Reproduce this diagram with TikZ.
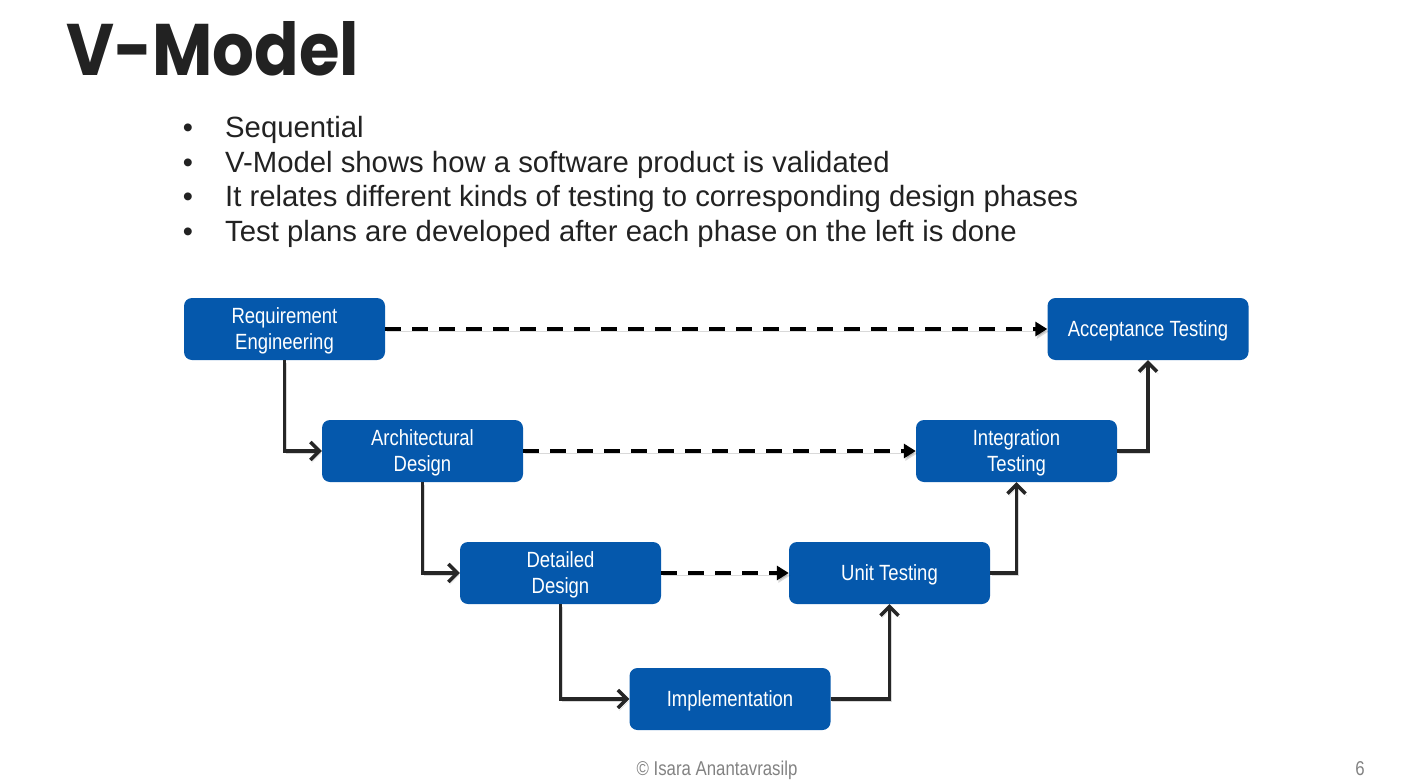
\documentclass[tikz,border=0pt]{standalone}
\usepackage{fontspec}
\usetikzlibrary{arrows.meta}
\setmainfont{Liberation Sans}
\newfontfamily\titlefont{Poppins}[UprightFont=* Bold, FakeStretch=0.9]
\newfontfamily\boxfont{Liberation Sans}[FakeStretch=0.84]
\definecolor{boxblue}{RGB}{5,88,172}
\definecolor{txtdark}{RGB}{34,34,34}
\definecolor{linedark}{RGB}{38,38,38}
\definecolor{footgray}{RGB}{130,130,130}
\newcommand\ptxt[1]{\raisebox{-2.5pt}[\height][\depth]{\begin{tabular}{@{}c@{}}#1\end{tabular}}}
\tikzset{
  phase/.style={draw=none, fill=boxblue, rounded corners=8pt, minimum width=201pt, minimum height=62pt,
    inner sep=0pt, text=white, align=center, font=\boxfont\fontsize{22}{26}\selectfont},
  softshadow/.style={preaction={draw=black, opacity=0.15, transform canvas={shift={(1.5pt,-2.5pt)}}}},
  flow/.style={softshadow, draw=linedark, line width=3.5pt, -{Straight Barb[length=9pt,width=18pt,line width=3.5pt]}},
  plan/.style={softshadow, draw=black, line width=4.5pt, dash pattern=on 16pt off 11pt, -{Triangle[length=12pt,width=14pt]}},
  bullettext/.style={anchor=base west, text=txtdark, font=\fontsize{29.3}{35}\selectfont, inner sep=0pt},
  bulletdot/.style={anchor=base, text=txtdark, font=\fontsize{29}{35}\selectfont, inner sep=0pt}
}
\begin{document}
\begin{tikzpicture}[x=1pt,y=-1pt]
\useasboundingbox (0,0) rectangle (1423,781);
\node[anchor=base west, inner sep=0pt, text=txtdark, font=\titlefont\fontsize{73}{80}\selectfont] (title) at (66,76) {V-Model};
\node[bulletdot] (d1) at (188,137) {•};
\node[bulletdot] (d2) at (188,172) {•};
\node[bulletdot] (d3) at (188,206) {•};
\node[bulletdot] (d4) at (188,241) {•};
\node[bullettext] (b1) at (225,137) {Sequential};
\node[bullettext] (b2) at (225,172) {V-Model shows how a software product is validated};
\node[bullettext] (b3) at (225,206) {It relates different kinds of testing to corresponding design phases};
\node[bullettext] (b4) at (225,241) {Test plans are developed after each phase on the left is done};

\node[phase] (req) at (284.5,329) {\ptxt{Requirement\\Engineering}};
\node[phase] (arch) at (422.5,451) {\ptxt{Architectural\\Design}};
\node[phase] (det) at (560.5,573) {\ptxt{Detailed\\Design}};
\node[phase] (impl) at (730,699) {\ptxt{Implementation}};
\node[phase] (unit) at (889.5,573) {\ptxt{Unit Testing}};
\node[phase] (integ) at (1016.5,451) {\ptxt{Integration\\Testing}};
\node[phase] (acc) at (1148,329) {\ptxt{Acceptance Testing}};

\draw[flow] (req.south) |- (arch.west);
\draw[flow] (arch.south) |- (det.west);
\draw[flow] (det.south) |- (impl.west);
\draw[flow] (impl.east) -| (unit.south);
\draw[flow] (unit.east) -| (integ.south);
\draw[flow] (integ.east) -| (acc.south);

\draw[plan] (req.east) -- (acc.west);
\draw[plan] (arch.east) -- (integ.west);
\draw[plan] (det.east) -- (unit.west);

\node[anchor=base, inner sep=0pt, text=footgray, font=\boxfont\fontsize{20}{22}\selectfont] (foot) at (717,775) {© Isara Anantavrasilp};
\node[anchor=base, inner sep=0pt, text=footgray, font=\boxfont\fontsize{20}{22}\selectfont] (page) at (1360,775) {6};
\end{tikzpicture}
\end{document}
